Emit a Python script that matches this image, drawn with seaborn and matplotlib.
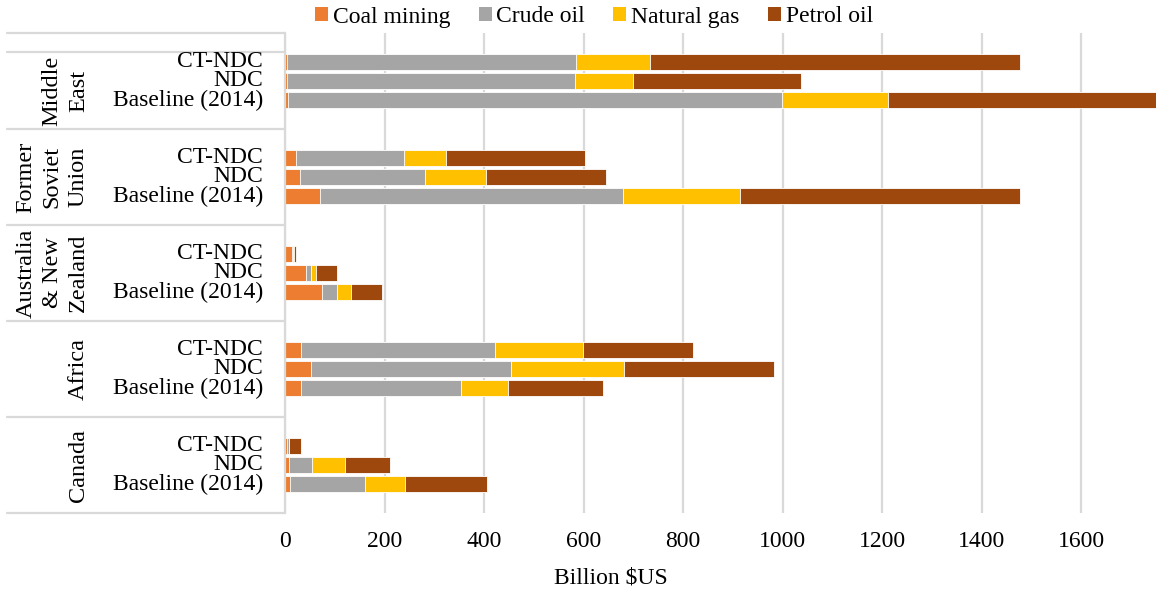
import matplotlib
matplotlib.use("Agg")
import matplotlib.pyplot as plt
from matplotlib.patches import Patch
import matplotlib.transforms as mtransforms
import numpy as np
import pandas as pd
import seaborn as sns

# Regions (top to bottom) and scenarios within each region
regions = ["Middle\nEast", "Former\nSoviet\nUnion", "Australia\n& New\nZealand", "Africa", "Canada"]
scenarios = ["CT-NDC", "NDC", "Baseline (2014)"]

# Values in billion $US, one list per region: [CT-NDC, NDC, Baseline (2014)]
coal_mining = [[5, 4, 6], [23, 31, 71], [14, 42, 74], [32, 53, 33], [4, 9, 11]]
crude_oil = [[580, 578, 993], [217, 251, 608], [3, 10, 31], [389, 401, 321], [4, 46, 150]]
natural_gas = [[149, 118, 212], [83, 122, 236], [2, 10, 28], [177, 228, 94], [0.5, 66, 81]]
petrol_oil = [[742, 336, 560], [280, 241, 562], [4, 43, 61], [222, 300, 191], [23, 90, 164]]

series_names = ["Coal mining", "Crude oil", "Natural gas", "Petrol oil"]
series_values = [coal_mining, crude_oil, natural_gas, petrol_oil]
series_colors = ["#ED7D31", "#A5A5A5", "#FFC000", "#9E480E"]

x_ticks = [0, 200, 400, 600, 800, 1000, 1200, 1400, 1600]

sns.set_theme(style="whitegrid")
plt.rcParams["font.family"] = ["Liberation Serif", "DejaVu Serif"]
plt.rcParams["font.size"] = 17
plt.rcParams["text.color"] = "black"

# Each region occupies five slots: a spacer, three scenarios, a spacer
rows = []
for r in range(len(regions)):
    for s in range(len(scenarios)):
        cum = 0.0
        for name, vals in zip(series_names, series_values):
            cum += vals[r][s]
            rows.append({"slot": 5 * r + 1 + s, "series": name, "cum": cum})
df = pd.DataFrame(rows)

fig = plt.figure(figsize=(11.56, 5.94), dpi=100)
W, H = 1156, 594
ax = fig.add_axes([285 / W, (H - 513) / H, 871 / W, 480 / H])

# Stacked bars: draw cumulative totals from the outermost series inward
for name, color in reversed(list(zip(series_names, series_colors))):
    sub = df[df["series"] == name]
    sns.barplot(data=sub, x="cum", y="slot", orient="y", native_scale=True,
                color=color, width=0.82, errorbar=None, edgecolor="white",
                linewidth=0.6, saturation=1, ax=ax)

grid_c = "#D9D9D9"
ax.set_xlim(0, 1750)
ax.set_ylim(24.5, -0.5)
ax.set_xticks(x_ticks)
ax.set_xticklabels([str(t) for t in x_ticks])
ax.set_yticks([])
ax.set_xlabel("")
ax.set_ylabel("")
ax.grid(axis="x", color=grid_c, linewidth=1.6)
ax.grid(axis="y", visible=False)
ax.tick_params(axis="x", length=0, pad=13, labelsize=17, colors="black")
for side in ["top", "right", "bottom"]:
    ax.spines[side].set_visible(False)
ax.spines["left"].set_color(grid_c)
ax.spines["left"].set_linewidth(1.6)

trans = mtransforms.blended_transform_factory(ax.transAxes, ax.transData)

# Scenario labels
for r in range(len(regions)):
    for s, sc in enumerate(scenarios):
        ax.text(-22 / 871, 5 * r + 1 + s, sc, transform=trans, ha="right",
                va="center", fontsize=17, color="black", clip_on=False)

# Region labels and separators of the category table
bounds = [-0.5, 0.49, 4.5, 9.5, 14.5, 19.5, 24.5]
for b in bounds:
    ax.plot([-278 / 871, 0], [b, b], transform=trans, color=grid_c,
            linewidth=1.6, clip_on=False)
centers = [2.5, 7, 12, 17, 22]
for name, c in zip(regions, centers):
    ax.text(-196 / 871, c, name, transform=trans, rotation=90, ha="right",
            va="center", multialignment="center", fontsize=17.5, color="black",
            linespacing=1.33, clip_on=False)

fig.text(611 / W, 1 - 578 / H, "Billion $US", ha="center", va="center",
         fontsize=17, color="black")

handles = [Patch(facecolor=c, edgecolor="none") for c in series_colors]
fig.legend(handles, series_names, loc="center", bbox_to_anchor=(594 / W, 1 - 17 / H),
           ncol=4, frameon=False, fontsize=17, handlelength=0.55, handleheight=0.55,
           handletextpad=0.2, columnspacing=1.2, borderaxespad=0)

fig.savefig("out.png", dpi=100, facecolor="white")
